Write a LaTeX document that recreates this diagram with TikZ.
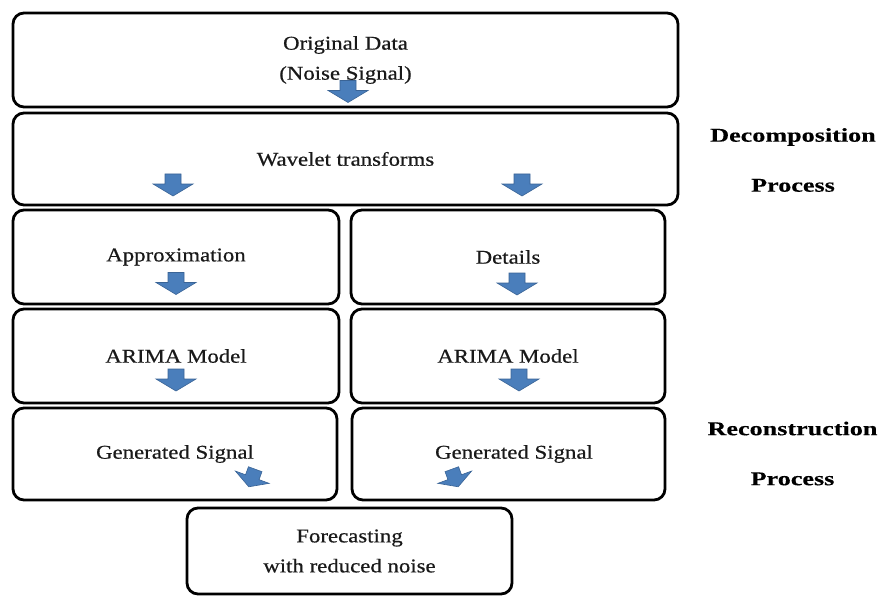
\documentclass[tikz,border=0pt]{standalone}
\usepackage{fontspec}
\setmainfont{Liberation Serif}
\newfontfamily\regf[FakeStretch=1.17,FakeBold=0.6]{Liberation Serif}
\newfontfamily\boldf[FakeStretch=1.34,FakeBold=0.3]{Liberation Serif Bold}
\definecolor{arrowfill}{HTML}{4A7EBB}
\definecolor{arrowline}{HTML}{3A6496}
\tikzset{
  box/.style={draw=black, line width=2.8pt, rounded corners=11pt, inner sep=0pt,
    font=\regf\fontsize{19.5}{30}\selectfont, align=center, text=black!90},
  sidelabel/.style={inner sep=0pt, font=\boldf\fontsize{19.5}{50}\selectfont, align=center},
  barrow/.pic={
    \path[fill=arrowfill, draw=arrowline, line width=0.6pt, line join=miter]
      (-8,-11) -- (8,-11) -- (8,-1) -- (20,-1) -- (0,11) -- (-20,-1) -- (-8,-1) -- cycle;
  }
}
\begin{document}
\begin{tikzpicture}[x=1pt, y=-1pt]
\useasboundingbox (0,0) rectangle (885,596);
% boxes
\node[box, minimum width=665pt, minimum height=94pt] (orig) at (345.5,60) {Original Data\\(Noise Signal)};
\node[box, minimum width=665pt, minimum height=92pt] (wave) at (345.5,159) {Wavelet transforms};
\node[box, minimum width=326pt, minimum height=94pt] (approx) at (176,257) {Approximation};
\node[box, minimum width=314pt, minimum height=94pt] (details) at (508,257) {Details};
\node[box, minimum width=326pt, minimum height=94pt] (arimaL) at (176,356) {ARIMA Model};
\node[box, minimum width=314pt, minimum height=94pt] (arimaR) at (508,356) {ARIMA Model};
\node[box, minimum width=324pt, minimum height=92pt] (genL) at (175,454) {Generated Signal};
\node[box, minimum width=313pt, minimum height=92pt] (genR) at (508.5,454) {\hspace*{11pt}Generated Signal};
\node[box, minimum width=325pt, minimum height=86pt] (fore) at (349.5,551) {Forecasting\\with reduced noise};
% side labels
\node[sidelabel] (decomp) at (793,160) {Decomposition\\Process};
\node[sidelabel] (recon) at (792.5,453.5) {Reconstruction\\Process};
% block arrows
\pic (a1) at (348,91.5) {barrow};
\pic (a2l) at (173,185) {barrow};
\pic (a2r) at (522,185) {barrow};
\pic (a3l) at (176,283.5) {barrow};
\pic (a3r) at (517,284) {barrow};
\pic (a4l) at (176,380) {barrow};
\pic (a4r) at (519,380) {barrow};
\pic[rotate=-20, xscale=0.9, yscale=0.85] (a5l) at (252,478) {barrow};
\pic[rotate=20, xscale=0.9, yscale=0.85] (a5r) at (455,478) {barrow};
\end{tikzpicture}
\end{document}
